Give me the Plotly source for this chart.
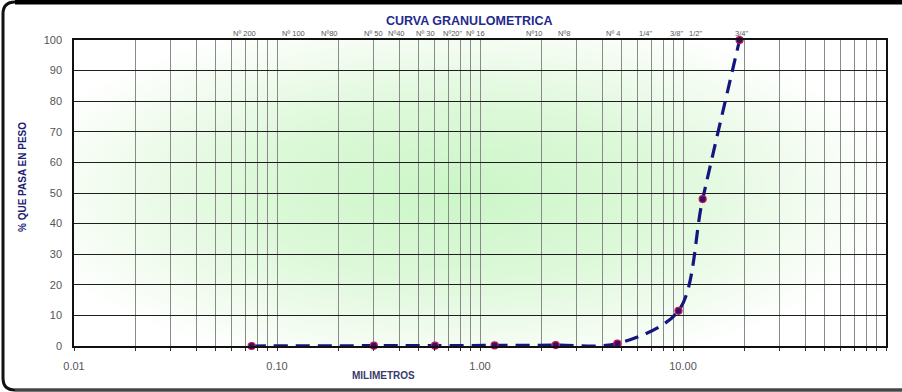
import base64
import math
import plotly.graph_objects as go

# Sieve analysis: opening (mm) and cumulative % passing
sieve_mm = [0.075, 0.3, 0.6, 1.18, 2.36, 4.75, 9.5, 12.5, 19.0]
pct_passing = [0.0, 0.1, 0.1, 0.2, 0.3, 0.8, 11.5, 48.0, 100.0]

# Sieve names shown along the top, with the opening (mm) each label sits over
sieve_names = ["Nº 200", "Nº 100", "Nº80", "Nº 50", "Nº40", "Nº 30", "Nº20\"", "Nº 16",
               "Nº10", "Nº8", "Nº 4", "1/4\"", "3/8\"", "1/2\"", "3/4\""]
sieve_label_mm = [0.0695, 0.121, 0.182, 0.30, 0.39, 0.536, 0.735, 0.95,
                  1.85, 2.59, 4.52, 6.57, 9.24, 11.5, 19.5]

# Log-axis labels (decades) and y ticks
decades = [0.01, 0.1, 1, 10, 100]
decade_text = ["0.01", "0.10", "1.00", "10.00", "100.00"]
y_ticks = list(range(0, 101, 10))

W, H = 902, 392
ML, MR, MT, MB = 74, 16, 40, 46
PW, PH = W - ML - MR, H - MT - MB


def px_x(p):
    return (p - ML) / PW


def px_y(p):
    return (H - MB - p) / PH


# minor log grid: 1..9 in each decade
grid_vals = []
grid_text = []
for i, d in enumerate(decades[:-1]):
    for k in range(1, 10):
        grid_vals.append(d * k)
        grid_text.append(decade_text[i] if k == 1 else "")
grid_vals.append(decades[-1])
grid_text.append(decade_text[-1])

FONT = "Liberation Sans, Arial, sans-serif"

fig = go.Figure()
fig.add_trace(go.Scatter(
    x=sieve_mm, y=pct_passing, mode="lines+markers",
    line=dict(color="#15157e", width=3.2, dash="14px,8px", shape="spline", smoothing=0.9),
    marker=dict(size=7, color="#3a0d66", line=dict(color="#c2185b", width=1.2)),
    cliponaxis=False, showlegend=False, hoverinfo="x+y",
))

# soft green radial glow behind the grid
svg = (
    '<svg xmlns="http://www.w3.org/2000/svg" width="812" height="306" viewBox="0 0 812 306" '
    'preserveAspectRatio="none">'
    '<defs><radialGradient id="g" cx="0.47" cy="0.5" r="0.55" fx="0.47" fy="0.5" '
    'gradientTransform="translate(0.47 0.5) scale(1 1.1) translate(-0.47 -0.5)">'
    '<stop offset="0" stop-color="#cbf6c7"/>'
    '<stop offset="0.45" stop-color="#dcf8d8"/>'
    '<stop offset="0.8" stop-color="#f3fcf1"/>'
    '<stop offset="1" stop-color="#ffffff"/>'
    '</radialGradient></defs>'
    '<rect x="0" y="0" width="812" height="306" fill="url(#g)"/></svg>'
)
svg_uri = "data:image/svg+xml;base64," + base64.b64encode(svg.encode()).decode()

annotations = []
for name, pos in zip(sieve_names, sieve_label_mm):
    annotations.append(dict(
        x=math.log10(pos), y=px_y(33), xref="x", yref="paper",
        text=name, showarrow=False, font=dict(family=FONT, size=7.5, color="#555555"),
        xanchor="center", yanchor="middle",
    ))
annotations += [
    dict(x=px_x(469), y=px_y(21), xref="paper", yref="paper", text="<b>CURVA GRANULOMETRICA</b>",
         showarrow=False, font=dict(family=FONT, size=12.5, color="#1f2a8c"),
         xanchor="center", yanchor="middle"),
    dict(x=px_x(383), y=px_y(375), xref="paper", yref="paper", text="<b>MILIMETROS</b>",
         showarrow=False, font=dict(family=FONT, size=10, color="#3a3a6e"),
         xanchor="center", yanchor="middle"),
    dict(x=px_x(22), y=px_y(177), xref="paper", yref="paper", text="<b>% QUE PASA EN PESO</b>",
         showarrow=False, textangle=-90, font=dict(family=FONT, size=10, color="#1d1d72"),
         xanchor="center", yanchor="middle"),
]

# outer rounded frame (open on the right)
L, R, T, B = px_x(3), px_x(912), px_y(2), px_y(390)
rx, ry = 12 / PW, 12 / PH
frame_path = (f"M {R},{T} L {L + rx},{T} Q {L},{T} {L},{T - ry} "
              f"L {L},{B + ry} Q {L},{B} {L + rx},{B} L {R},{B}")
shapes = [
    dict(type="path", path=frame_path, xref="paper", yref="paper",
         line=dict(color="#111111", width=3), layer="above"),
    dict(type="line", x0=L + rx, x1=R, y0=px_y(2), y1=px_y(2), xref="paper", yref="paper",
         line=dict(color="#000000", width=5), layer="above"),
    dict(type="line", x0=L + rx, x1=R, y0=B, y1=B, xref="paper", yref="paper",
         line=dict(color="#444444", width=2.5), layer="above"),
]

fig.update_layout(
    width=W, height=H, margin=dict(l=ML, r=MR, t=MT, b=MB),
    paper_bgcolor="white", plot_bgcolor="rgba(0,0,0,0)",
    font=dict(family=FONT),
    images=[dict(source=svg_uri, xref="paper", yref="paper", x=0, y=1, sizex=1, sizey=1,
                 sizing="stretch", layer="below", xanchor="left", yanchor="top")],
    annotations=annotations, shapes=shapes,
    xaxis=dict(type="log", range=[-2, 2], tickvals=grid_vals, ticktext=grid_text,
               showgrid=True, gridcolor="#8a8a8a", gridwidth=1.3,
               ticks="outside", ticklen=3, tickcolor="#333333", ticklabelstandoff=6,
               tickfont=dict(family=FONT, size=11, color="#555555"),
               showline=True, linecolor="#111111", linewidth=1.5, mirror=True,
               zeroline=False, fixedrange=True),
    yaxis=dict(range=[0, 100], tickvals=y_ticks, showgrid=True, gridcolor="#1e1e1e",
               gridwidth=1.4, ticks="", ticklabelstandoff=8,
               tickfont=dict(family=FONT, size=11, color="#555555"),
               showline=True, linecolor="#111111", linewidth=1.5, mirror=True,
               zeroline=False, fixedrange=True),
)

fig.write_html("out.html")
